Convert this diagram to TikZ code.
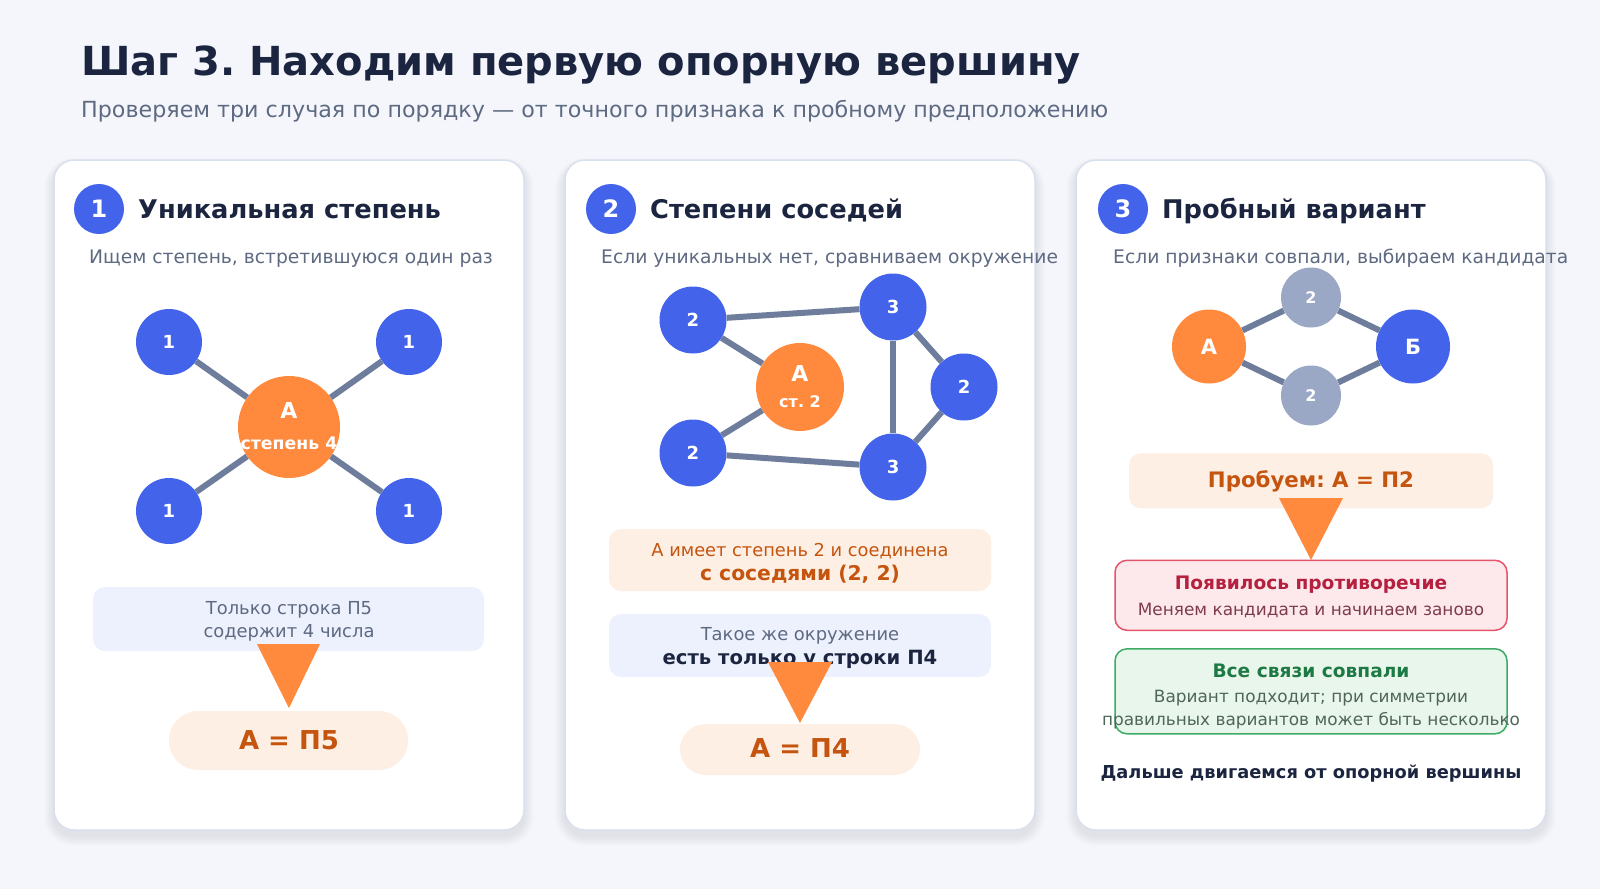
\documentclass[tikz,border=0pt]{standalone}
\usepackage{fontspec}
\setmainfont{DejaVu Sans}
\frenchspacing
\definecolor{bgc}{HTML}{F4F6FB}
\definecolor{cardline}{HTML}{D8E0EF}
\definecolor{bluec}{HTML}{4364EA}
\definecolor{orangec}{HTML}{FF8A3D}
\definecolor{edgec}{HTML}{6E7D9B}
\definecolor{grayn}{HTML}{9AA8C5}
\definecolor{darkc}{HTML}{1C2540}
\definecolor{mutedc}{HTML}{5E6A82}
\definecolor{otext}{HTML}{C4540E}
\definecolor{ofill}{HTML}{FEEFE4}
\definecolor{bfill}{HTML}{EDF1FD}
\definecolor{rline}{HTML}{E5546A}
\definecolor{rfill}{HTML}{FDE9EC}
\definecolor{rtext}{HTML}{B5203F}
\definecolor{rsub}{HTML}{7D3B4B}
\definecolor{gline}{HTML}{3DAA66}
\definecolor{gfill}{HTML}{E9F6EC}
\definecolor{gtext}{HTML}{1E7A44}
\definecolor{gsub}{HTML}{4F6658}
\newcommand{\myfs}[1]{\fontsize{#1}{#1}\selectfont}
\begin{document}
\begin{tikzpicture}[x=1pt,y=-1pt,
  txt/.style={inner sep=0pt,anchor=base},
  txtw/.style={inner sep=0pt,anchor=base west},
  card/.style={draw=cardline,line width=1.5pt,fill=white,rounded corners=20pt,outer sep=0pt},
  numc/.style={circle,fill=bluec,inner sep=0pt,minimum size=50pt,text=white,font=\bfseries\myfs{24}},
  bnode/.style={circle,fill=bluec,inner sep=0pt,minimum size=66pt,text=white,font=\bfseries\myfs{18}},
  onode/.style={circle,fill=orangec,inner sep=0pt,text=white},
  gnode/.style={circle,fill=grayn,inner sep=0pt,minimum size=60pt,text=white,font=\bfseries\myfs{16}},
  edge/.style={draw=edgec,line width=6pt},
  head/.style={txtw,text=darkc,font=\bfseries\myfs{25.7}},
  csub/.style={txtw,text=mutedc,font=\myfs{18.7}},
  tri/.style={fill=orangec},
  box/.style={inner sep=0pt,rounded corners=12pt},
]
\useasboundingbox (0,0) rectangle (1600,889);
\fill[bgc] (0,0) rectangle (1600,889);

% title
\node[txtw,text=darkc,font=\bfseries\myfs{40}] (title) at (81,75) {Шаг 3. Находим первую опорную вершину};
\node[txtw,text=mutedc,font=\myfs{22.2}] (subtitle) at (81,117) {Проверяем три случая по порядку — от точного признака к пробному предположению};

% cards with shadows
\foreach \cx/\nm in {54/c1,565/c2,1076/c3}{
  \foreach \i in {1,...,10}{
    \fill[black!60!blue,opacity=0.006,rounded corners=20pt+\i pt] (\cx-\i,164-\i*0.6) rectangle (\cx+470+\i,836+\i);
  }
  \node[card,minimum width=470pt,minimum height=670pt,anchor=north west] (\nm) at (\cx,160) {};
}

% ===== card 1 =====
\node[numc] (k1) at (99,209) {1};
\node[head] (h1) at (138,218) {Уникальная степень};
\node[csub] (s1) at (89,263) {Ищем степень, встретившуюся один раз};

\node[onode,minimum size=102pt] (A1) at (289,427) {};
\node[bnode] (l1) at (169,342) {1};
\node[bnode] (l2) at (409,342) {1};
\node[bnode] (l3) at (169,511) {1};
\node[bnode] (l4) at (409,511) {1};
\foreach \l in {l1,l2,l3,l4} \draw[edge] (A1) -- (\l);
\node[txt,text=white,font=\bfseries\myfs{22}] (A1a) at (289,418) {А};
\node[txt,text=white,font=\bfseries\myfs{17.3}] (A1b) at (289,449) {степень 4};

\node[box,fill=bfill,minimum width=391pt,minimum height=64pt] (b1) at (288.5,619) {};
\node[txt,text=mutedc,font=\myfs{17.9}] (b1a) at (289,614) {Только строка П5};
\node[txt,text=mutedc,font=\myfs{17.9}] (b1b) at (289,637) {содержит 4 числа};
\node[inner sep=0pt,fill=ofill,rounded corners=29pt,minimum width=239pt,minimum height=59pt] (p1) at (288.5,740.5) {};
\node[txt,text=otext,font=\bfseries\myfs{26}] (p1t) at (289,749) {А = П5};
\fill[tri] (257,644) -- (320,644) -- (289,708) -- cycle;

% ===== card 2 =====
\node[numc] (k2) at (611,209) {2};
\node[head] (h2) at (650,218) {Степени соседей};
\node[csub] (s2) at (601,263) {Если уникальных нет, сравниваем окружение};

\node[onode,minimum size=88pt] (A2) at (800,387) {};
\node[bnode,minimum size=67pt] (m1) at (693,320) {2};
\node[bnode,minimum size=67pt] (m2) at (693,453) {2};
\node[bnode,minimum size=67pt] (m3) at (893,307) {3};
\node[bnode,minimum size=67pt] (m4) at (893,467) {3};
\node[bnode,minimum size=67pt] (m5) at (964,387) {2};
\draw[edge] (m1) -- (A2);
\draw[edge] (m2) -- (A2);
\draw[edge] (m1) -- (m3);
\draw[edge] (m2) -- (m4);
\draw[edge] (m3) -- (m4);
\draw[edge] (m3) -- (m5);
\draw[edge] (m4) -- (m5);
\node[txt,text=white,font=\bfseries\myfs{22}] (A2a) at (800,381) {А};
\node[txt,text=white,font=\bfseries\myfs{16}] (A2b) at (800,407) {ст. 2};

\node[box,fill=ofill,minimum width=382pt,minimum height=62pt] (b2) at (800,560) {};
\node[txt,text=otext,font=\myfs{17.8}] (b2a) at (800,556) {А имеет степень 2 и соединена};
\node[txt,text=otext,font=\bfseries\myfs{20.3}] (b2b) at (800,580) {с соседями (2, 2)};
\node[box,fill=bfill,minimum width=382pt,minimum height=63pt] (b3) at (800,645.5) {};
\node[txt,text=mutedc,font=\myfs{17.9}] (b3a) at (800,640) {Такое же окружение};
\node[txt,text=darkc,font=\bfseries\myfs{19.6}] (b3b) at (800,664) {есть только у строки П4};
\node[inner sep=0pt,fill=ofill,rounded corners=25.5pt,minimum width=240pt,minimum height=51pt] (p2) at (800,749.5) {};
\node[txt,text=otext,font=\bfseries\myfs{26}] (p2t) at (800,757) {А = П4};
\fill[tri] (768,662) -- (832,662) -- (800,723) -- cycle;

% ===== card 3 =====
\node[numc] (k3) at (1123,209) {3};
\node[head] (h3) at (1162,218) {Пробный вариант};
\node[csub] (s3) at (1113,263) {Если признаки совпали, выбираем кандидата};

\node[onode,minimum size=74pt,font=\bfseries\myfs{21}] (A3) at (1209,346.5) {А};
\node[bnode,minimum size=74pt,font=\bfseries\myfs{21}] (B3) at (1413,346.5) {Б};
\node[gnode] (g1) at (1311,297.5) {2};
\node[gnode] (g2) at (1311,395.5) {2};
\draw[edge] (A3) -- (g1);
\draw[edge] (A3) -- (g2);
\draw[edge] (B3) -- (g1);
\draw[edge] (B3) -- (g2);

\node[box,fill=ofill,minimum width=364pt,minimum height=55pt] (b4) at (1311,480.8) {};
\node[txt,text=otext,font=\bfseries\myfs{21.3}] (b4t) at (1311,487.6) {Пробуем: А = П2};

\node[box,draw=rline,line width=1.5pt,fill=rfill,minimum width=392pt,minimum height=70pt] (b5) at (1311,595.3) {};
\node[txt,text=rtext,font=\bfseries\myfs{18.6}] (b5a) at (1311,589) {Появилось противоречие};
\node[txt,text=rsub,font=\myfs{16.9}] (b5b) at (1311,615) {Меняем кандидата и начинаем заново};

\node[box,draw=gline,line width=1.5pt,fill=gfill,minimum width=392pt,minimum height=85pt] (b6) at (1311,691.3) {};
\node[txt,text=gtext,font=\bfseries\myfs{18.6}] (b6a) at (1311,677) {Все связи совпали};
\node[txt,text=gsub,font=\myfs{16.9}] (b6b) at (1311,702.8) {Вариант подходит; при симметрии};
\node[txt,text=gsub,font=\myfs{16.9}] (b6c) at (1311,725.9) {правильных вариантов может быть несколько};
\fill[tri] (1279,498) -- (1343,498) -- (1311,560) -- cycle;

\node[txt,text=darkc,font=\bfseries\myfs{17.8}] (foot) at (1311,778.6) {Дальше двигаемся от опорной вершины};
\end{tikzpicture}
\end{document}
